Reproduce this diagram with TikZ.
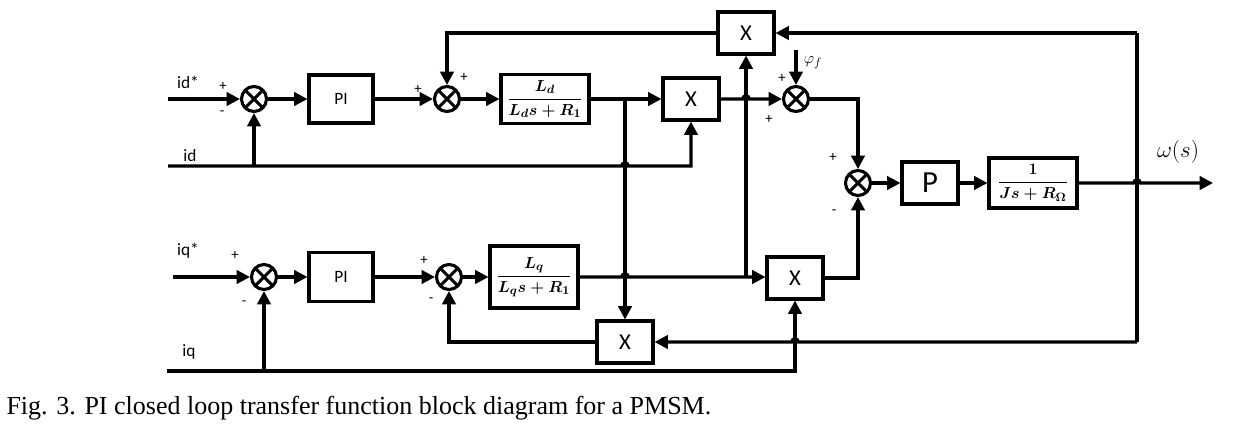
\documentclass[tikz,border=0pt]{standalone}
\usepackage{amsmath}
\usepackage{fontspec}
\setmainfont{Liberation Serif}
\setsansfont{Carlito}
\usepackage{tikz}
\usetikzlibrary{arrows.meta,calc}

\begin{document}
\begin{tikzpicture}[x=0.75pt,y=-0.75pt,line width=2.3pt,>={Triangle[length=10pt,width=10pt]}]
        %
        % `blk' is used for the PI and P boxes, `tf' for the transfer functions.
        % `mul' is used for the product boxes (X).
        % `sumj' is used for the summing junctions.
        % `pm' and `sig' are used for the signs and signal names.
        \tikzstyle{blk} = [draw,fill=white,inner sep=0pt,font=\sffamily\fontsize{13}{15}\selectfont]
        \tikzstyle{tf} = [draw,fill=white,inner sep=0pt,minimum width=66pt,font=\fontsize{13}{15}\selectfont]
        \tikzstyle{mul} = [blk,minimum width=42pt,minimum height=31.5pt,font=\sffamily\fontsize{17}{19}\selectfont]
        \tikzstyle{sumj} = [draw,circle,minimum size=18.75pt,inner sep=0pt,path picture={\draw[line width=2.3pt] (path picture bounding box.north west) -- (path picture bounding box.south east) (path picture bounding box.north east) -- (path picture bounding box.south west);}]
        \tikzstyle{pm} = [inner sep=0pt,font=\sffamily\fontsize{11}{12}\selectfont]
        \tikzstyle{sig} = [inner sep=0pt,font=\sffamily\fontsize{13}{15}\selectfont]
        \useasboundingbox (0,0) rectangle (1233,426);
        %
        % d axis
        \coordinate (idstar) at (168,99);
        \coordinate (idL) at (168,166);
        \node[sumj] (sum1) at (254,99) {};
        \node[blk,minimum width=48pt,minimum height=36pt] (pi1) at (341,99) {PI};
        \node[sumj] (sum2) at (447,99) {};
        \node[tf,minimum height=36.75pt] (gd) at (545,99) {$\boldsymbol{\dfrac{L_d}{L_d s+R_1}}$};
        \node[mul] (multd) at (691,99) {X};
        \node[sumj] (sum3) at (796,99) {};
        \coordinate (phi) at (796,50);
        %
        % Speed feedback products
        \node[mul] (multw) at (746,33) {X};
        \node[mul] (multf) at (625,342) {X};
        %
        % Mechanical part
        \node[sumj] (sum4) at (858,183) {};
        \node[blk,minimum width=42pt,minimum height=31.5pt,font=\sffamily\fontsize{23}{25}\selectfont] (pgain) at (930,183) {P};
        \node[tf,minimum height=37.5pt] (gmech) at (1033,183) {$\boldsymbol{\dfrac{1}{Js+R_\Omega}}$};
        \coordinate (out) at (1213,183);
        \coordinate (rtop) at (1137,33);
        \coordinate (rbot) at (rtop |- multf.east);
        %
        % q axis
        \coordinate (iqstar) at (173,277);
        \coordinate (iqL) at (167,371);
        \node[sumj] (sum5) at (264,277) {};
        \node[blk,minimum width=48pt,minimum height=36.75pt] (pi2) at (341,277) {PI};
        \node[sumj] (sum6) at (449,277) {};
        \node[tf,minimum height=46.5pt] (gq) at (534,277) {$\boldsymbol{\dfrac{L_q}{L_q s+R_1}}$};
        \node[mul] (multq) at (795,278) {X};
        %
        % Branch points
        \coordinate (brd) at (multf.north |- gd.east);
        \coordinate (brq) at (multw.south |- gq.east);
        %
        % Signal names and signs
        \node[sig] (tidstar) at (188,82) {id*};
        \node[sig] (tid) at (190,156) {id};
        \node[sig] (tiqstar) at (188,251) {iq*};
        \node[sig] (tiq) at (189,352) {iq};
        \node[pm] (p1) at (223,86) {+};
        \node[pm] (m1) at (222,113) {-};
        \node[pm] (p2a) at (418,89) {+};
        \node[pm] (p2b) at (464,77) {+};
        \node[pm] (p3a) at (782,78) {+};
        \node[pm] (p3b) at (769,119) {+};
        \node[pm] (p4) at (833,157) {+};
        \node[pm] (m4) at (834,212) {-};
        \node[pm] (p5) at (235,255) {+};
        \node[pm] (m5) at (244,303) {-};
        \node[pm] (p6) at (424,260) {+};
        \node[pm] (m6) at (431,300) {-};
        \node[inner sep=0pt,font=\fontsize{13}{15}\selectfont] (tphi) at (813,63) {$\varphi_f$};
        \node[inner sep=0pt,font=\fontsize{17}{19}\selectfont] (tw) at (1178,152) {$\omega(s)$};
        %
        % d axis connections
        \draw[->] (idstar) -- (sum1);
        \draw[->] (sum1) -- (pi1);
        \draw[->] (pi1) -- (sum2);
        \draw[->] (sum2) -- (gd);
        \draw[->] (gd) -- (multd);
        \draw[->] (sum1 |- idL) -- (sum1);
        \draw[->] (idL) -- ($(brd |- idL)+(-2.5pt,0)$) arc[start angle=180,end angle=0,radius=2.5pt] -- (multd.south |- idL) -- (multd);
        \draw[->] (multd) -- ($(brq |- multd.east)+(-2.5pt,0)$) arc[start angle=180,end angle=0,radius=2.5pt] -- (sum3);
        \draw[->] (phi) -- (sum3);
        \draw[->] (sum3) -| (sum4);
        \draw[->] (multw) -| (sum2);
        %
        % Mechanical connections
        \draw[->] (sum4) -- (pgain);
        \draw[->] (pgain) -- (gmech);
        \draw[->] (gmech) -- ($(rtop |- gmech.east)+(-2.5pt,0)$) arc[start angle=180,end angle=0,radius=2.5pt] -- (out);
        \draw (rtop) -- (rbot);
        \draw[->] (rtop) -- (multw);
        \draw[->] (rbot) -- ($(multq.south |- rbot)+(2.5pt,0)$) arc[start angle=0,end angle=180,radius=2.5pt] -- (multf);
        %
        % q axis connections
        \draw[->] (iqstar) -- (sum5);
        \draw[->] (sum5) -- (pi2);
        \draw[->] (pi2) -- (sum6);
        \draw[->] (sum6) -- (gq);
        \draw[->] (gq) -- ($(brd |- gq.east)+(-2.5pt,0)$) arc[start angle=180,end angle=0,radius=2.5pt] -- (multq.west |- gq.east);
        \draw[->] (brq) -- (multw);
        \draw[->] (brd) -- (multf);
        \draw[->] (multq) -| (sum4);
        \draw[->] (multf) -| (sum6);
        \draw[->] (sum5 |- iqL) -- (sum5);
        \draw[->] (iqL) -- (multq.south |- iqL) -- (multq);
        %
        % Caption
        \node[anchor=west,inner sep=0pt,font=\fontsize{19.5}{22}\selectfont] (caption) at (5,408) {Fig. 3. PI closed loop transfer function block diagram for a PMSM.};
        %
\end{tikzpicture}
\end{document}
